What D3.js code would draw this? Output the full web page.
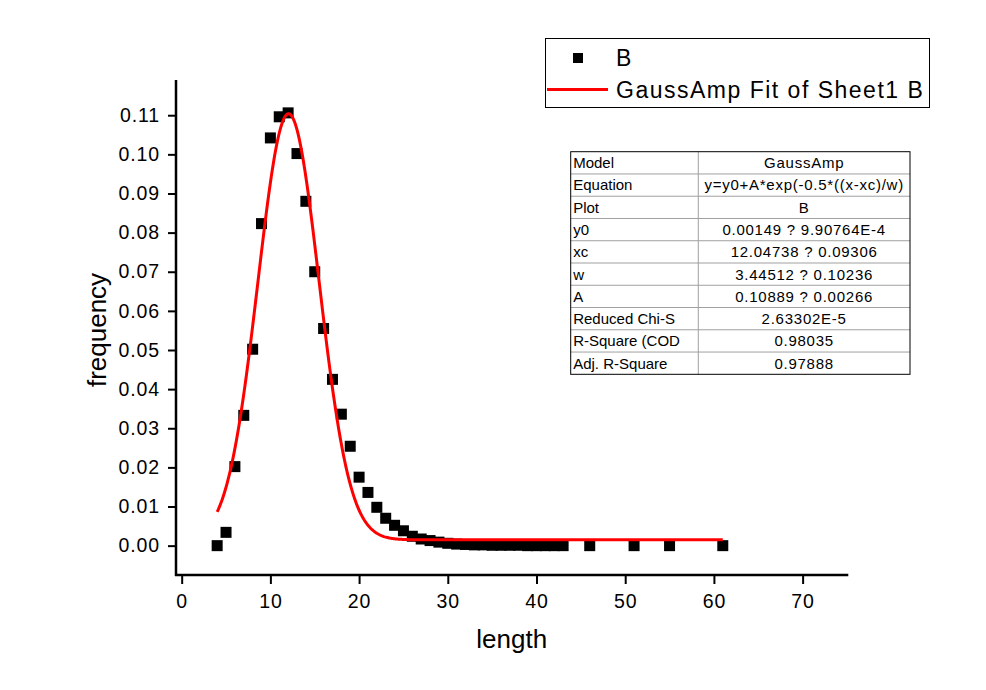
<!DOCTYPE html>
<html>
<head>
<meta charset="utf-8">
<script src="https://cdn.jsdelivr.net/npm/d3@7"></script>
<style>
  html, body { margin: 0; padding: 0; background: #fff; }
  svg { display: block; }
  text { font-family: "Liberation Sans", Arial, sans-serif; fill: #000; }
</style>
</head>
<body>
<svg id="chart" width="986" height="690"></svg>
<script>
// ---- data ----
const lengths = [4,5,6,7,8,9,10,11,12,13,14,15,16,17,18,19,20,21,22,23,24,25,26,27,28,29,30,31,32,33,34,35,36,37,38,39,40,41,42,43,46,51,55,61];
const frequency = [0.0000,0.0034,0.0202,0.0333,0.0502,0.0823,0.1042,0.1096,0.1106,0.1002,0.0880,0.0700,0.0555,0.0425,0.0336,0.0254,0.0175,0.0136,0.0098,0.0070,0.0052,0.0038,0.0024,0.0017,0.0013,0.0009,0.0006,0.0004,0.0003,0.0002,0.0002,0.0001,0.0001,0.0001,0.0001,0.0000,0.0000,0.0000,0.0000,0.0000,0.0000,0.0000,0.0000,0.0000];
// fit parameters (GaussAmp) as reported in the table
const fitNames = ["y0","xc","w","A"];
const fitValues = [0.00149, 12.04738, 3.44512, 0.10889];
const fitRange = [4, 61];
const xTicks = [0,10,20,30,40,50,60,70];
const yTicks = [0,0.01,0.02,0.03,0.04,0.05,0.06,0.07,0.08,0.09,0.10,0.11];
const legendLabels = ["B", "GaussAmp Fit of Sheet1 B"];
const tableLabels = ["Model","Equation","Plot","y0","xc","w","A","Reduced Chi-S","R-Square (COD","Adj. R-Square"];
const tableValues = ["GaussAmp","y=y0+A*exp(-0.5*((x-xc)/w)","B","0.00149 ? 9.90764E-4","12.04738 ? 0.09306","3.44512 ? 0.10236","0.10889 ? 0.00266","2.63302E-5","0.98035","0.97888"];

// ---- layout ----
const svg = d3.select("#chart");
const X0 = 176, X1 = 848.3, Y0 = 575, Y1 = 80;
const x = d3.scaleLinear().domain([-0.64, 75.15]).range([X0, X1]);
const y = d3.scaleLinear().domain([-0.0075, 0.119]).range([Y0, Y1]);

// minor ticks
const xMinor = d3.range(5, 75, 10);
const yMinor = d3.range(-0.005, 0.119, 0.01);

const gx = svg.append("g").attr("transform", `translate(0,${Y0})`);
gx.call(d3.axisBottom(x).tickValues(xMinor).tickSize(5).tickFormat("").tickSizeOuter(0));
gx.call(d3.axisBottom(x).tickValues(xTicks).tickSize(9).tickPadding(10).tickSizeOuter(0).tickFormat(d3.format("d")));
const gy = svg.append("g").attr("transform", `translate(${X0},0)`);
gy.call(d3.axisLeft(y).tickValues(yMinor).tickSize(5).tickFormat("").tickSizeOuter(0));
gy.call(d3.axisLeft(y).tickValues(yTicks).tickSize(8).tickPadding(8).tickSizeOuter(0).tickFormat(d3.format(".2f")));

[gx, gy].forEach(g => {
  g.selectAll("path.domain").attr("stroke", "#000").attr("stroke-width", 2.5);
  g.selectAll(".tick line").attr("stroke", "#000").attr("stroke-width", 2);
  g.selectAll(".tick text").attr("font-size", 19.5).attr("letter-spacing", 0.9).attr("fill", "#000");
});
gx.select("path.domain").attr("d", `M${X0 - 1},0H${X1}`);
gy.select("path.domain").attr("d", `M0,${Y0 + 1}V${Y1}`);

// axis titles
svg.append("text").attr("x", 511.7).attr("y", 648).attr("text-anchor", "middle")
  .attr("font-size", 26).text("length");
svg.append("text").attr("transform", "translate(106,330) rotate(-90)").attr("text-anchor", "middle")
  .attr("font-size", 26).text("frequency");

// data points
const S = 11;
svg.append("g").selectAll("rect").data(lengths).join("rect")
  .attr("x", (d) => x(d) - S / 2)
  .attr("y", (d, i) => y(frequency[i]) - S / 2)
  .attr("width", S).attr("height", S).attr("fill", "#000");

// fit curve
const [y0f, xcf, wf, Af] = fitValues;
const fitX = d3.range(fitRange[0], fitRange[1] + 0.001, 0.1);
const line = d3.line().x(d => x(d)).y(d => y(y0f + Af * Math.exp(-0.5 * Math.pow((d - xcf) / wf, 2))));
svg.append("path").datum(fitX).attr("d", line)
  .attr("fill", "none").attr("stroke", "#ff0000").attr("stroke-width", 3);

// legend
const lg = svg.append("g");
lg.append("rect").attr("x", 545.5).attr("y", 38.5).attr("width", 384).attr("height", 69)
  .attr("fill", "#fff").attr("stroke", "#000").attr("stroke-width", 1);
lg.append("rect").attr("x", 573).attr("y", 53).attr("width", 10).attr("height", 10).attr("fill", "#000");
lg.append("text").attr("x", 616).attr("y", 66).attr("font-size", 23).attr("letter-spacing", 1.5).text(legendLabels[0]);
lg.append("line").attr("x1", 547).attr("x2", 608).attr("y1", 89.5).attr("y2", 89.5)
  .attr("stroke", "#ff0000").attr("stroke-width", 3);
lg.append("text").attr("x", 616).attr("y", 98).attr("font-size", 23).attr("letter-spacing", 1.5).text(legendLabels[1]);

// fit table
const TL = 570.7, TR = 910, TT = 151.7, TB = 374.3, TC = 698.3;
const rowY = d3.scaleBand().domain(d3.range(tableLabels.length)).range([TT, TB]);
const tg = svg.append("g");
tg.append("rect").attr("x", TL).attr("y", TT).attr("width", TR - TL).attr("height", TB - TT).attr("fill", "#fff");
tg.selectAll("line.row").data(d3.range(1, tableLabels.length)).join("line")
  .attr("x1", TL).attr("x2", TR).attr("y1", d => rowY(d)).attr("y2", d => rowY(d))
  .attr("stroke", "#a0a0a0").attr("stroke-width", 1);
tg.append("line").attr("x1", TC).attr("x2", TC).attr("y1", TT).attr("y2", TB)
  .attr("stroke", "#a0a0a0").attr("stroke-width", 1);
tg.append("rect").attr("x", TL).attr("y", TT).attr("width", TR - TL).attr("height", TB - TT)
  .attr("fill", "none").attr("stroke", "#000").attr("stroke-width", 1);
tg.selectAll("text.lab").data(tableLabels).join("text")
  .attr("x", TL + 2.5).attr("y", (d, i) => rowY(i) + rowY.bandwidth() / 2 + 5.4)
  .attr("font-size", 15).attr("letter-spacing", 0).text(d => d);
tg.selectAll("text.val").data(tableValues).join("text")
  .attr("x", (TC + TR) / 2).attr("y", (d, i) => rowY(i) + rowY.bandwidth() / 2 + 5.4)
  .attr("text-anchor", "middle").attr("font-size", 15).attr("letter-spacing", 0.75).text(d => d);
</script>
</body>
</html>
